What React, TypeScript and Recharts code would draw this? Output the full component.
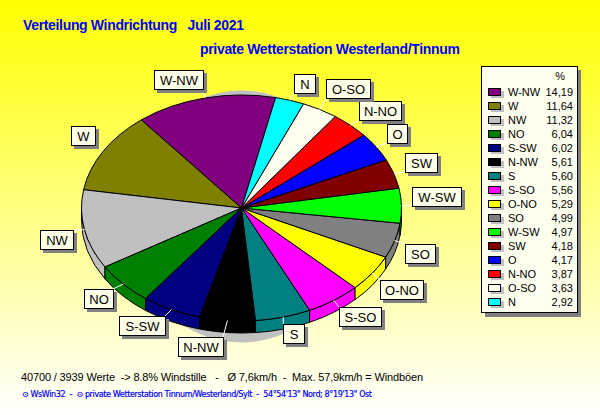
import { Pie, PieChart } from "recharts";

const directions = ["W-NW", "W", "NW", "NO", "S-SW", "N-NW", "S", "S-SO", "O-NO", "SO", "W-SW", "SW", "O", "N-NO", "O-SO", "N"];
const percents = [14.19, 11.64, 11.32, 6.04, 6.02, 5.61, 5.6, 5.56, 5.29, 4.99, 4.97, 4.18, 4.17, 3.87, 3.63, 2.92];
const colors = ["#800080", "#808000", "#C0C0C0", "#008000", "#000080", "#000000", "#008080", "#FF00FF", "#FFFF00", "#808080", "#00FF00", "#800000", "#0000FF", "#FF0000", "#FFFFF0", "#00FFFF"];

const data = directions.map((name, i) => ({ name, value: percents[i], fill: colors[i] }));

// label boxes, placed by hand like the original
const boxes: Record<string, number[]> = {
    "W-NW": [154, 70, 49],
    "W": [71, 126, 24],
    "N": [294, 74, 21],
    "O-SO": [326, 79, 44],
    "N-NO": [359, 101, 42],
    "O": [387, 124, 20],
    "SW": [405, 153, 32],
    "W-SW": [412, 187, 49],
    "SO": [405, 244, 30],
    "O-NO": [380, 280, 43],
    "S-SO": [339, 307, 42],
    "S": [283, 324, 21],
    "N-NW": [178, 337, 45],
    "S-SW": [119, 316, 46],
    "NO": [84, 289, 29],
    "NW": [40, 230, 33],
};

const W = 600;
const H = 415;
const CX = 241.5;
const CY = 208;
const RX = 160;
const SQUASH = 113 / 160;
const DEPTH = 12;
const FONT = "'Liberation Sans', Arial, sans-serif";

const pt = (cx: number, cy: number, r: number, deg: number) => {
    const a = (deg * Math.PI) / 180;
    return [cx + r * Math.cos(a), cy - r * SQUASH * Math.sin(a)];
};

function TopSlice(props: any) {
    const { cx, cy, outerRadius: r, startAngle, endAngle, fill } = props;
    const [x0, y0] = pt(cx, cy, r, startAngle);
    const [x1, y1] = pt(cx, cy, r, endAngle);
    const large = Math.abs(endAngle - startAngle) > 180 ? 1 : 0;
    const d = `M${cx},${cy} L${x0},${y0} A${r},${r * SQUASH} 0 ${large} 0 ${x1},${y1} Z`;
    return <path d={d} fill={fill} stroke="#000" strokeWidth={1} />;
}

// outer wall: only the part of a slice that faces the viewer (180..360 deg)
function WallSlice(props: any) {
    const { cx, cy, outerRadius: r, startAngle, endAngle, fill } = props;
    let a = Math.max(startAngle, 180);
    let b = Math.min(endAngle, 360);
    if (b <= a) return null;
    const [x0, y0] = pt(cx, cy, r, a);
    const [x1, y1] = pt(cx, cy, r, b);
    const ry = r * SQUASH;
    const d = `M${x0},${y0} A${r},${ry} 0 0 0 ${x1},${y1} L${x1},${y1 + DEPTH} A${r},${ry} 0 0 1 ${x0},${y0 + DEPTH} Z`;
    return <path d={d} fill={fill} stroke="#000" strokeWidth={1} />;
}

function BoxLabel(props: any) {
    const { cx, cy, outerRadius: r, midAngle, name } = props;
    const [x, y, w] = boxes[name];
    const h = 19;
    const [ax, ay] = pt(cx, cy, r, midAngle);
    const lx = Math.min(Math.max(ax, x), x + w);
    const ly = Math.min(Math.max(ay, y), y + h);
    return (
        <g>
            <line x1={ax} y1={ay} x2={lx} y2={ly} stroke="#fff" strokeWidth={1} />
            <rect x={x + 3} y={y + 3} width={w + 1} height={h + 1} fill="#808080" />
            <rect x={x + 0.5} y={y + 0.5} width={w} height={h} fill="#FFFFE8" stroke="#000" strokeWidth={1} />
            <text x={x + w / 2 + 0.5} y={y + 15} textAnchor="middle" fontFamily={FONT} fontSize={13} fill="#000">{name}</text>
        </g>
    );
}

export default function App() {
    document.body.style.margin = "0";
    return (
        <div style={{ position: "relative", width: W, height: H, background: "linear-gradient(#FFFF00, #FFFFFF)" }}>
            <PieChart width={W} height={H} margin={{ top: 0, right: 0, bottom: 0, left: 0 }}>
                <ellipse cx={CX} cy={216.5} rx={115} ry={126} fill="#C0C0C0" />
                <Pie data={data} dataKey="value" nameKey="name" cx={CX} cy={CY} outerRadius={RX} startAngle={77.7} endAngle={437.7}
                     shape={WallSlice} isAnimationActive={false} label={false} />
                <Pie data={data} dataKey="value" nameKey="name" cx={CX} cy={CY} outerRadius={RX} startAngle={77.7} endAngle={437.7}
                     shape={TopSlice} isAnimationActive={false} label={BoxLabel} labelLine={false} />

                <rect x={485} y={70} width={96} height={247} fill="#808080" />
                <rect x={481.5} y={66.5} width={96} height={246} fill="#FFFFF0" stroke="#000" strokeWidth={1} />
                <text x={565} y={80} textAnchor="end" fontFamily={FONT} fontSize={11} fill="#000">%</text>
                {data.map((d, i) => {
                    const y = 92 + i * 14;
                    return (
                        <g key={d.name}>
                            <rect x={491} y={y - 1} width={13} height={7} fill="#C0C0C0" />
                            <rect x={488.5} y={y - 3.5} width={12} height={7} fill={d.fill} stroke="#000" strokeWidth={1} />
                            <text x={508} y={y + 4} fontFamily={FONT} fontSize={11} fill="#000">{d.name}</text>
                            <text x={573} y={y + 4} textAnchor="end" fontFamily={FONT} fontSize={11} fill="#000">{d.value.toFixed(2).replace(".", ",")}</text>
                        </g>
                    );
                })}

                <text x={23} y={30} fontFamily={FONT} fontWeight="bold" fontSize={14} fill="#0000FF" xmlSpace="preserve" textLength={221}>Verteilung Windrichtung   Juli 2021</text>
                <text x={200} y={54} fontFamily={FONT} fontWeight="bold" fontSize={14} fill="#0000FF" textLength={260}>private Wetterstation Westerland/Tinnum</text>
                <text x={21} y={381} fontFamily={FONT} fontSize={11} fill="#000" xmlSpace="preserve" textLength={402}>40700 / 3939 Werte  -&gt; 8.8% Windstille   -   Ø 7,6km/h  -  Max. 57,9km/h = Windböen</text>
                <text x={22} y={397} fontFamily="'DejaVu Sans', sans-serif" fontSize={8} fill="#0000FF" stroke="#0000FF" strokeWidth={0.2} xmlSpace="preserve" textLength={350}>⊙ WsWin32  -  ⊙ private Wetterstation Tinnum/Westerland/Sylt  -  54°54'13" Nord; 8°19'13" Ost</text>
            </PieChart>
        </div>
    );
}
